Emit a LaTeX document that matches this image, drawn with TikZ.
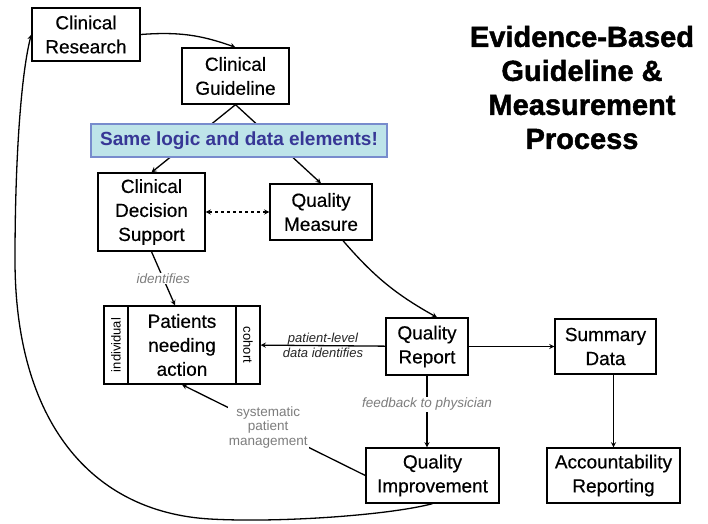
\documentclass[tikz,border=0pt]{standalone}
\usepackage{fontspec}
\setmainfont{Liberation Sans}
\newfontfamily\boxfont[FakeBold=0.4]{Liberation Sans}
\newfontfamily\titlefont[BoldFeatures={FakeBold=1.6}]{Liberation Sans}
\usetikzlibrary{positioning, arrows}
\definecolor{bannerfill}{RGB}{190,228,233}
\definecolor{bannerline}{RGB}{120,140,205}
\definecolor{bannertext}{RGB}{55,55,150}
\definecolor{notegray}{RGB}{125,125,125}
\tikzset{
  ->,  % every connector is directed
  >=stealth, % small filled heads
  box/.style={draw, rectangle, align=center, inner sep=2pt, font=\fontsize{19}{24}\boxfont}, % the process steps
  strip/.style={draw, rectangle, minimum width=78pt, minimum height=24pt, inner sep=0pt, font=\fontsize{13}{14}\selectfont}, % side bands of the patients box
  note/.style={text=notegray, font=\fontsize{13.5}{14.5}\selectfont\itshape, fill=white, inner sep=1pt, align=center}, % labels on the connectors
}

\begin{document}
\begin{tikzpicture}[x=1pt, y=-1pt, node distance=2cm, on grid, line width=1.3pt]
        \useasboundingbox (0,0) rectangle (708,523);

        \node[box, minimum width=108pt, minimum height=53pt] (cr) at (86,34.5) {Clinical\\Research};
        \node[box, minimum width=107pt, minimum height=56pt] (cg) at (235.5,76) {Clinical\\Guideline};
        \node[box, minimum width=107pt, minimum height=78pt] (cds) at (151.5,212) {Clinical\\Decision\\Support};
        \node[box, minimum width=102pt, minimum height=56pt] (qm) [right=169.5pt of cds] {Quality\\Measure};
        \node[box, minimum width=108pt, minimum height=78pt] (pna) at (182,345) {Patients\\needing\\action};
        \node[strip, rotate=90] (ind) [left=66pt of pna] {individual};
        \node[strip, rotate=-90] (coh) [right=66pt of pna] {cohort};
        \node[box, minimum width=82pt, minimum height=57pt] (qr) at (427,346.5) {Quality\\Report};
        \node[box, minimum width=101pt, minimum height=55pt] (sd) [right=178.5pt of qr] {Summary\\Data};
        \node[box, minimum width=133pt, minimum height=55pt] (qi) at (432.5,475.5) {Quality\\Improvement};
        \node[box, minimum width=133pt, minimum height=55pt] (ar) [right=181pt of qi] {Accountability\\Reporting};

        \node[font=\fontsize{29}{34}\titlefont\bfseries, align=center] (title) at (582,87.5)
          {Evidence-Based\\Guideline \&\\Measurement\\Process};

        \path
        (cr.east) edge [bend left=12] (cg.north)
        (cg.south) edge (cds.north)
                   edge (qm.north)
        (cds) edge [<->, dashed] (qm)
        ([xshift=22pt]qm.south) edge [bend right=10] ([xshift=10pt]qr.north)
        (cds.south) edge node[note] {identifies} ([xshift=-7pt]pna.north)
        (qr) edge node[align=center, font=\fontsize{13}{15}\selectfont\itshape, text=black!85] {patient-level\\data identifies} (coh)
             edge (sd)
        (qr.south) edge node[note, pos=0.4] {feedback to physician} ([xshift=-5.5pt]qi.north)
        ([xshift=8pt]sd.south) edge (ar.north)
        (qi.west) edge node[note, font=\fontsize{13.5}{14.5}\selectfont, pos=0.53] {systematic\\patient\\management} (pna.south);

        % back to research
        \draw (qi.south) .. controls (390,515) and (280,523) .. (210,519)
              .. controls (90,512) and (15,420) .. (15,260)
              .. controls (15,150) and (22,70) .. (cr.west);

        \node[draw=bannerline, fill=bannerfill, text=bannertext, font=\fontsize{19}{22}\selectfont\bfseries,
              minimum width=296pt, minimum height=33pt] (same) at (239,140.5) {Same logic and data elements!};
    
    \end{tikzpicture}
\end{document}
